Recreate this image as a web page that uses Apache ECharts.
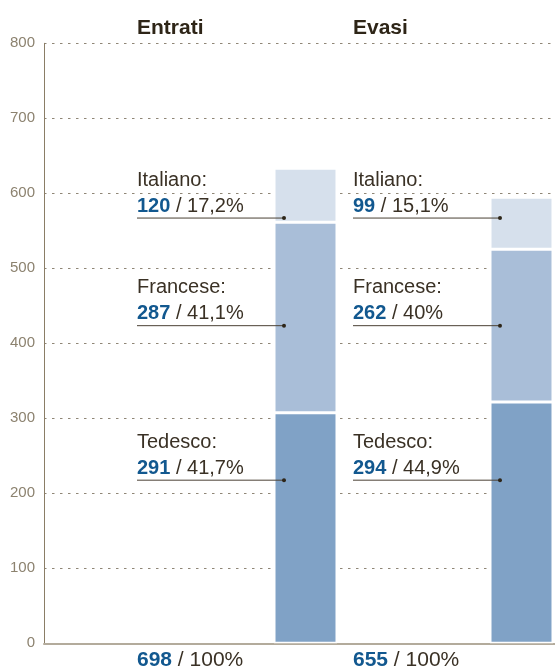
<!DOCTYPE html>
<html>
<head>
<meta charset="utf-8">
<script src="https://cdn.jsdelivr.net/npm/echarts@6/dist/echarts.min.js"></script>
<style>
html,body{margin:0;padding:0;background:#fff;}
#main{width:555px;height:666px;}
</style>
</head>
<body>
<div id="main"></div>
<script>
// ---- data ----
const categories = ['Entrati', 'Evasi'];
const tedescoBar = [307.5, 321.7];
const franceseBar = [253.8, 203.6];
const italianoBar = [72, 69.4];
const languages = ['Italiano:', 'Francese:', 'Tedesco:'];
const countsEntrati = [120, 287, 291];
const pctEntrati = ['17,2%', '41,1%', '41,7%'];
const countsEvasi = [99, 262, 294];
const pctEvasi = ['15,1%', '40%', '44,9%'];
const totals = [698, 655];
const totalPct = ['100%', '100%'];
const yMin = 0, yMax = 800, yStep = 100;

// ---- layout / style ----
const FONT = '"Liberation Sans", Arial, Helvetica, sans-serif';
const TEXT = '#3a3125';
const BLUE = '#12588f';
const labelLineAt = [567, 423.5, 217.5]; // leader-line heights (axis units), layout only
const counts = [countsEntrati, countsEvasi];
const pcts = [pctEntrati, pctEvasi];

const chart = echarts.init(document.getElementById('main'));
const barStyle = c => ({ color: c, borderColor: '#ffffff', borderWidth: 1.5 });
chart.setOption({
  animation: false,
  grid: [
    { left: 44, right: 0, top: 43.3, bottom: 22.7, outerBoundsMode: 'none' },
    { left: 197.5, width: 432, top: 43.3, bottom: 22.7, outerBoundsMode: 'none' }
  ],
  xAxis: [
    { gridIndex: 0, type: 'value', min: 0, max: 1,
      axisLine: { show: true, onZero: false, lineStyle: { color: '#b3ab9c', width: 2 } },
      axisTick: { show: false }, axisLabel: { show: false }, splitLine: { show: false } },
    { gridIndex: 1, type: 'category', data: categories, show: false }
  ],
  yAxis: [
    { gridIndex: 0, type: 'value', min: yMin, max: yMax, interval: yStep,
      axisLine: { show: true, lineStyle: { color: '#8a7d66', width: 1 } },
      axisTick: { show: false },
      axisLabel: { color: '#8c826f', fontSize: 15, margin: 9, fontFamily: FONT },
      splitLine: { show: true, lineStyle: { type: [2.5, 5.5], color: '#8f8676', width: 1 } } },
    { gridIndex: 1, type: 'value', min: yMin, max: yMax, show: false }
  ],
  series: [
    { name: 'Tedesco', type: 'bar', xAxisIndex: 1, yAxisIndex: 1, stack: 't', barWidth: 63,
      data: tedescoBar, itemStyle: barStyle('#80a2c6') },
    { name: 'Francese', type: 'bar', xAxisIndex: 1, yAxisIndex: 1, stack: 't', barWidth: 63,
      data: franceseBar, itemStyle: barStyle('#a9bed8') },
    { name: 'Italiano', type: 'bar', xAxisIndex: 1, yAxisIndex: 1, stack: 't', barWidth: 63,
      data: italianoBar, itemStyle: barStyle('#d6e0ec') }
  ]
});

const graphics = [];
categories.forEach((cat, i) => {
  const cx = chart.convertToPixel({ gridIndex: 1 }, [cat, 0])[0];
  const textX = cx - 168.5;
  const dotX = cx - 31.5 + 10;
  graphics.push({ type: 'text', x: textX, y: 28, z: 10,
    style: { text: cat, fill: '#2e2517', font: 'bold 21px ' + FONT, verticalAlign: 'middle' } });
  languages.forEach((lang, k) => {
    const ly = chart.convertToPixel({ yAxisIndex: 1 }, labelLineAt[k]);
    graphics.push({ type: 'text', x: textX, y: ly - 38, z: 10,
      style: { text: lang, fill: TEXT, font: '20px ' + FONT, verticalAlign: 'middle' } });
    graphics.push({ type: 'text', x: textX, y: ly - 12, z: 10,
      style: { text: '{b|' + counts[i][k] + '}{n| / ' + pcts[i][k] + '}', verticalAlign: 'middle',
        rich: { b: { fill: BLUE, font: 'bold 20px ' + FONT }, n: { fill: TEXT, font: '20px ' + FONT } } } });
    graphics.push({ type: 'line', z: 10, shape: { x1: textX, y1: ly, x2: dotX, y2: ly },
      style: { stroke: '#4a4134', lineWidth: 1 } });
    graphics.push({ type: 'circle', z: 11, shape: { cx: dotX, cy: ly, r: 2 },
      style: { fill: '#2e2619' } });
  });
  graphics.push({ type: 'text', x: textX, y: 660, z: 10,
    style: { text: '{b|' + totals[i] + '}{n| / ' + totalPct[i] + '}', verticalAlign: 'middle',
      rich: { b: { fill: BLUE, font: 'bold 21px ' + FONT }, n: { fill: TEXT, font: '21px ' + FONT } } } });
});
chart.setOption({ graphic: { elements: graphics } });
</script>
</body>
</html>
